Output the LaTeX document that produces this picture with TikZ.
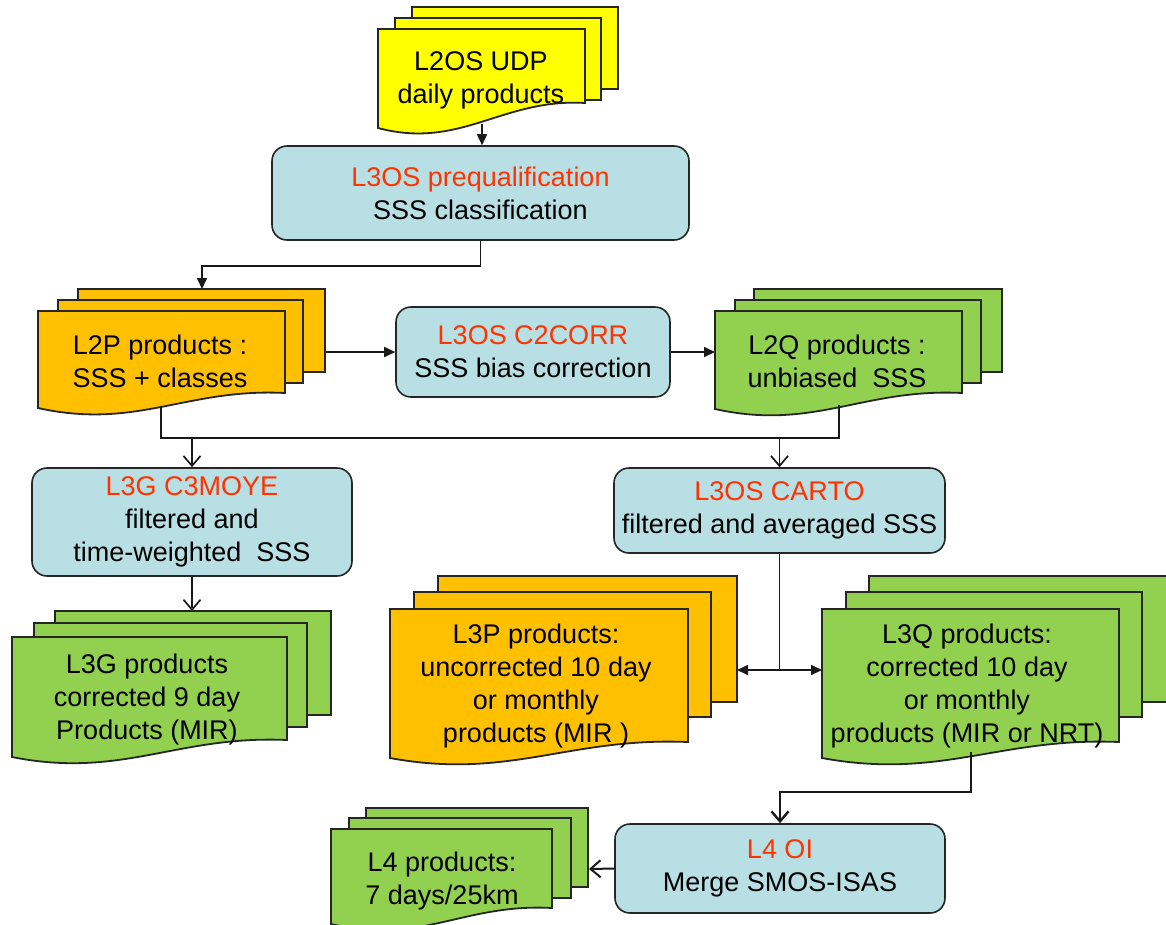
\documentclass[tikz,border=0pt]{standalone}
\usepackage{fontspec}
\setmainfont{Liberation Sans}
\usetikzlibrary{arrows.meta}
\definecolor{docyellow}{HTML}{FFFF00}
\definecolor{docorange}{HTML}{FFC000}
\definecolor{docgreen}{HTML}{92D050}
\definecolor{boxfill}{HTML}{B8DFE3}
\definecolor{redtxt}{HTML}{FF3300}
\newcommand\backsheet[5]{\filldraw[sheet,fill=#5] (#1,#2) rectangle (#3,#4);}
\newcommand\frontsheet[6]{\filldraw[sheet,fill=#6] (#1,#2) -- (#3,#2) -- (#3,#4) .. controls ({#1+0.6*(#3-#1)},{#4-5}) and ({#1+0.4*(#3-#1)},{#5+22}) .. (#1,#5) -- cycle;}
\tikzset{
  sheet/.style={draw=black!85, line width=1.8pt, line join=miter},
  proc/.style={draw=black!85, line width=1.6pt, fill=boxfill, rounded corners=15pt, inner sep=0pt, align=center},
  doctext/.style={align=center, inner sep=0pt},
  every node/.style={font=\fontsize{27}{33}\selectfont},
  conn/.style={line width=1.7pt, draw=black!90},
  fa/.style={conn, -{Triangle[length=11pt,width=10pt]}},
  oa/.style={conn, -{Straight Barb[length=10pt,width=17pt]}},
  da/.style={conn, {Triangle[length=11pt,width=10pt]}-{Triangle[length=11pt,width=10pt]}}
}
\begin{document}
\begin{tikzpicture}[x=1pt,y=-1pt]
\useasboundingbox (0,0) rectangle (1166,924);
\clip (0,0) rectangle (1166,924);
\fill[white] (0,0) rectangle (1166,924);

% L2OS UDP stack
\backsheet{412}{7}{618}{89}{docyellow}
\backsheet{395}{18}{601}{100}{docyellow}
\frontsheet{378}{29}{585}{103}{128}{docyellow}
\node[doctext] (l2os) at (481,80) {L2OS UDP\\daily products};
\coordinate (l2osbot) at (482,124);

% L2P stack
\backsheet{78}{289}{325}{372}{docorange}
\backsheet{58}{300}{303}{383}{docorange}
\frontsheet{38}{311}{285}{393}{408}{docorange}
\node[doctext] (l2p) at (160,361) {L2P products :\\SSS + classes};
\coordinate (l2ptop) at (202,289);
\coordinate (l2pright) at (325,352);
\coordinate (l2pbot) at (161,406);

% L2Q stack
\backsheet{754}{289}{1002}{372}{docgreen}
\backsheet{735}{300}{981}{383}{docgreen}
\frontsheet{715}{311}{962}{393}{409}{docgreen}
\node[doctext] (l2q) at (837,361) {L2Q products :\\unbiased\ \ SSS};
\coordinate (l2qleft) at (715,352);
\coordinate (l2qbot) at (839,405);

% L3G stack
\backsheet{55}{611}{331}{715}{docgreen}
\backsheet{34}{623}{307}{727}{docgreen}
\frontsheet{12}{637}{287}{740}{757}{docgreen}
\node[doctext] (l3g) at (147,699) {L3G products\\corrected 9 day\\Products (MIR)};
\coordinate (l3gtop) at (192,611);

% L3P stack
\backsheet{438}{576}{737}{702}{docorange}
\backsheet{414}{592}{711}{717}{docorange}
\frontsheet{390}{609}{688}{742}{758}{docorange}
\node[doctext] (l3p) at (536,686) {L3P products:\\uncorrected 10 day\\or monthly\\products (MIR\ )};
\coordinate (l3pright) at (737,670);

% L3Q stack
\backsheet{869}{576}{1168}{702}{docgreen}
\backsheet{846}{592}{1142}{717}{docgreen}
\frontsheet{822}{609}{1119}{742}{758}{docgreen}
\node[doctext] (l3q) at (967,686) {L3Q products:\\corrected 10 day\\or monthly\\products (MIR or NRT)};
\coordinate (l3qleft) at (822,670);
\coordinate (l3qbot) at (971,752);

% L4 stack
\backsheet{366}{808}{588}{887}{docgreen}
\backsheet{349}{818}{571}{898}{docgreen}
\frontsheet{331}{829}{552}{908}{924}{docgreen}
\node[doctext] (l4p) at (442,881) {L4 products:\\7 days/25km};
\coordinate (l4right) at (589,869);

% process boxes
\node[proc, minimum width=417pt, minimum height=94pt] (preq) at (480.5,193) {\textcolor{redtxt}{L3OS prequalification}\\SSS classification};
\node[proc, minimum width=274pt, minimum height=90pt] (c2) at (533,352) {\textcolor{redtxt}{L3OS C2CORR}\\SSS bias correction};
\node[proc, minimum width=320pt, minimum height=108pt] (c3) at (192,522) {\textcolor{redtxt}{L3G C3MOYE}\\filtered and\\time-weighted\ \ SSS};
\node[proc, minimum width=331pt, minimum height=85pt] (carto) at (779.5,510.5) {\textcolor{redtxt}{L3OS CARTO}\\filtered and averaged SSS};
\node[proc, minimum width=330pt, minimum height=89pt] (l4oi) at (780,868.5) {\textcolor{redtxt}{L4 OI}\\Merge SMOS-ISAS};

% connectors
\coordinate (bus) at (500,438);
\coordinate (turn) at (971,792);
\draw[fa] (l2osbot) -- (l2osbot |- preq.north);
\draw[fa] (preq.south) -- ++(0,25) -| (l2ptop);
\draw[fa] (l2pright) -- (c2.west);
\draw[fa] (c2.east) -- (l2qleft);
\draw[conn] (l2pbot) |- (bus) -| (l2qbot);
\draw[oa] (c3.north |- bus) -- (c3.north);
\draw[oa] (carto.north |- bus) -- (carto.north);
\draw[oa] (c3.south) -- (l3gtop);
\draw[conn] (carto.south) -- (carto.south |- l3qleft);
\draw[da] (l3pright) -- (l3qleft);
\draw[oa, line width=2.4pt] (l3qbot) -- (turn) -| (l4oi.north);
\draw[oa, line width=2pt] (l4oi.west) -- (l4right);
\end{tikzpicture}
\end{document}
